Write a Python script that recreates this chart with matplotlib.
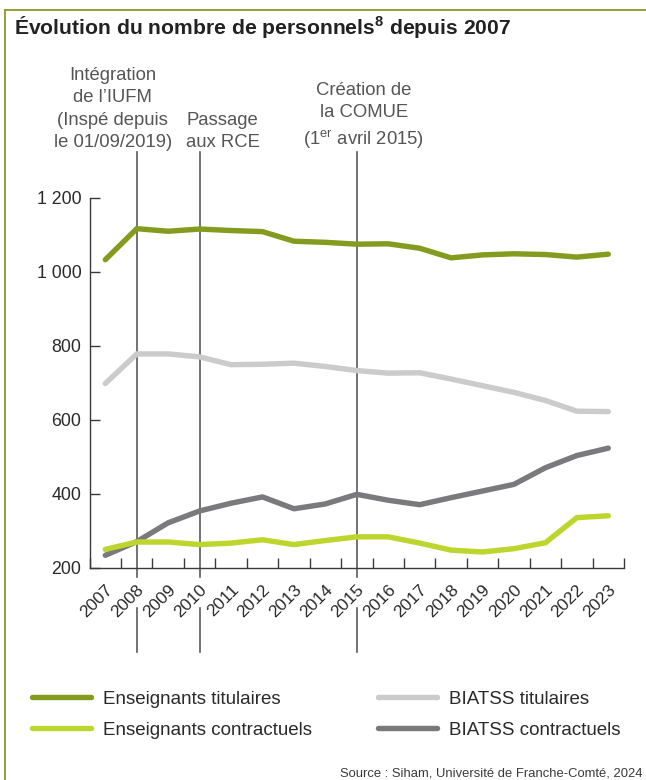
import numpy as np
import matplotlib
matplotlib.use("Agg")
import matplotlib.pyplot as plt
from matplotlib.lines import Line2D
from matplotlib.transforms import blended_transform_factory, ScaledTranslation

plt.rcParams['font.family'] = ['Liberation Sans', 'DejaVu Sans']
plt.rcParams['mathtext.fontset'] = 'custom'
plt.rcParams['mathtext.rm'] = 'Liberation Sans'
plt.rcParams['mathtext.bf'] = 'Liberation Sans:bold'

# ---- data ----
years = [str(y) for y in range(2007, 2024)]
ens_tit = [1033, 1117, 1110, 1116, 1112, 1109, 1083, 1080, 1075, 1076, 1064, 1038, 1046, 1049, 1047, 1040, 1048]
biatss_tit = [698, 778, 778, 770, 749, 750, 753, 744, 733, 726, 727, 710, 692, 674, 652, 623, 622]
ens_con = [249, 269, 269, 262, 266, 275, 262, 273, 283, 283, 266, 247, 242, 251, 267, 335, 340]
biatss_con = [233, 270, 321, 353, 374, 391, 359, 372, 398, 382, 370, 389, 407, 425, 470, 503, 523]
series_names = ["Enseignants titulaires", "Enseignants contractuels", "BIATSS titulaires", "BIATSS contractuels"]
event_years = ["2008", "2010", "2015"]
event_labels = ["Intégration\nde l\u2019IUFM\n(Inspé depuis\nle 01/09/2019)",
                "Passage\naux RCE",
                "Création de\nla COMUE\n(1$^{\\rm er}$ avril 2015)"]
yticks = [200, 400, 600, 800, 1000, 1200]
ytick_labels = ["200", "400", "600", "800", "1 000", "1 200"]

# ---- style ----
c_ens_tit = "#849b1f"
c_ens_con = "#bdd62e"
c_bia_tit = "#cbcbcb"
c_bia_con = "#7a7a7c"
axis_col = "#3a3a3a"
ann_col = "#555555"

W, H = 646, 780
fig = plt.figure(figsize=(W / 100, H / 100), dpi=100)

left_px, right_px = 89.6, 624.0
top_px, bot_px = 198.0, 567.5
ax = fig.add_axes([left_px / W, 1 - bot_px / H, (right_px - left_px) / W, (bot_px - top_px) / H])

x = np.arange(len(years))
lw = 3.9
for vals, col, name in [(ens_tit, c_ens_tit, series_names[0]),
                        (biatss_tit, c_bia_tit, series_names[2]),
                        (biatss_con, c_bia_con, series_names[3]),
                        (ens_con, c_ens_con, series_names[1])]:
    ax.plot(x, vals, color=col, lw=lw, solid_capstyle='round', solid_joinstyle='round',
            label=name, zorder=3)

ax.set_xlim(-0.5, len(years) - 0.5)
ax.set_ylim(200, 1200)

for s in ['top', 'right']:
    ax.spines[s].set_visible(False)
for s in ['left', 'bottom']:
    ax.spines[s].set_color(axis_col)
    ax.spines[s].set_linewidth(1.0)

ax.set_yticks(yticks)
ax.set_yticklabels(ytick_labels)
ax.tick_params(axis='y', direction='in', length=7.5, width=1.0, color=axis_col,
               labelsize=12.8, labelcolor="#2a2a2a", pad=6)

ax.set_xticks(np.arange(-0.5, len(years), 1.0))
ax.set_xticklabels([])
ax.tick_params(axis='x', which='major', direction='in', length=7, width=1.0, color=axis_col)
ax.set_xticks(x, minor=True)
ax.set_xticklabels(years, minor=True, rotation=45, ha='right', va='center',
                   rotation_mode='anchor', fontsize=12.6, color="#2a2a2a")
ax.tick_params(axis='x', which='minor', length=0, pad=14)
off = ScaledTranslation(5 / 100, 0, fig.dpi_scale_trans)
for lbl in ax.get_xticklabels(minor=True):
    lbl.set_transform(lbl.get_transform() + off)

# event lines & annotations
tr = blended_transform_factory(ax.transData, fig.transFigure)
ann_dx = [-24, 23, 7]
for ey, txt, dx in zip(event_years, event_labels, ann_dx):
    xi = years.index(ey)
    ax.plot([xi, xi], [1 - 152 / H, 1 - 577 / H], transform=tr, color="#5a5a5a",
            lw=1.2, clip_on=False, zorder=2)
    ax.plot([xi, xi], [1 - 608 / H, 1 - 652 / H], transform=tr, color="#5a5a5a",
            lw=1.2, clip_on=False, zorder=2)
    ax.text(xi, 1 - 151 / H, txt, transform=tr + ScaledTranslation(dx / 100, 0, fig.dpi_scale_trans),
            ha='center', va='bottom', fontsize=13.3, color=ann_col, linespacing=1.42)

# title
fig.text(14 / W, 1 - 28 / H, "Évolution du nombre de personnels$^{\\mathbf{8}}$ depuis 2007",
         fontsize=15.2, fontweight='bold', color="#222222", ha='left', va='center')

# frame
fig.add_artist(Line2D([5 / W, 1.0], [1 - 9.5 / H, 1 - 9.5 / H], transform=fig.transFigure,
                      color="#8a9a2a", lw=1.3))
fig.add_artist(Line2D([5 / W, 5 / W], [0, 1 - 9.5 / H], transform=fig.transFigure,
                      color="#8a9a2a", lw=1.3))

# legend
handles, labels = ax.get_legend_handles_labels()
order = [labels.index(n) for n in series_names]
h = [handles[i] for i in order]
leg = fig.legend(h, series_names, loc='upper left', bbox_to_anchor=(32 / W, 1 - 690.5 / H),
                 ncol=2, frameon=False, fontsize=13.5, handlelength=3.15, handletextpad=0.64,
                 columnspacing=3.5, labelspacing=0.75, borderpad=0, borderaxespad=0)
for line in leg.get_lines():
    line.set_linewidth(lw)
    line.set_solid_capstyle('round')
for t in leg.get_texts():
    t.set_color("#2a2a2a")

fig.text(642 / W, 1 - 773 / H, "Source : Siham, Université de Franche-Comté, 2024",
         fontsize=9.4, color="#3a3a3a", ha='right', va='center')

fig.savefig("out.png", dpi=100)
